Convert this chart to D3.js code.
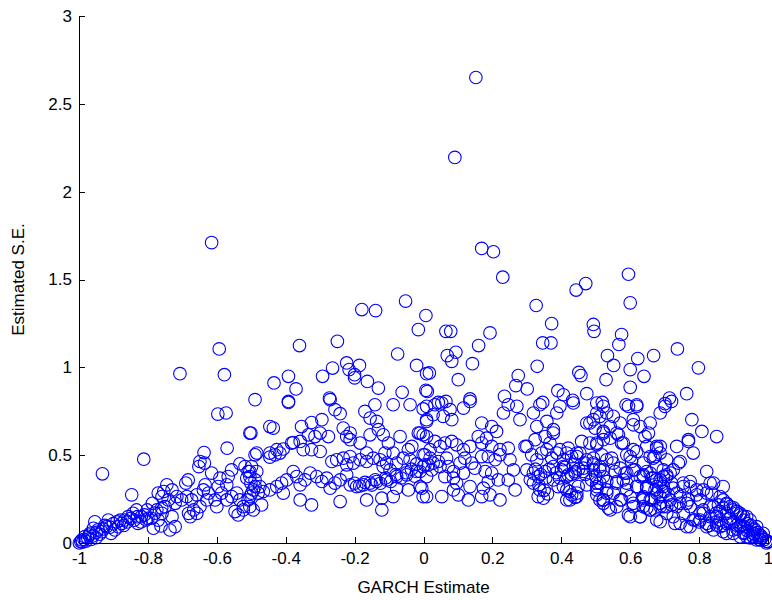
<!DOCTYPE html>
<html>
<head>
<meta charset="utf-8">
<script src="https://cdn.jsdelivr.net/npm/d3@7"></script>
<style>
  html, body { margin: 0; padding: 0; background: #fff; }
  svg { display: block; }
  .axis text { font-family: "Liberation Sans", Arial, Helvetica, sans-serif; font-size: 17px; fill: #000; }
  .axis path, .axis line { stroke: #000; stroke-width: 1; shape-rendering: crispEdges; }
  .title { font-family: "Liberation Sans", Arial, Helvetica, sans-serif; font-size: 17px; fill: #000; }
</style>
</head>
<body>
<svg id="chart" width="772" height="600"></svg>
<script>
// ---- tick definitions ----
const xTicks = [-1, -0.8, -0.6, -0.4, -0.2, 0, 0.2, 0.4, 0.6, 0.8, 1];
const xTickLabels = ["-1", "-0.8", "-0.6", "-0.4", "-0.2", "0", "0.2", "0.4", "0.6", "0.8", "1"];
const yTicks = [0, 0.5, 1, 1.5, 2, 2.5, 3];
const yTickLabels = ["0", "0.5", "1", "1.5", "2", "2.5", "3"];
const xLabel = "GARCH Estimate";
const yLabel = "Estimated S.E.";

// ---- data: [GARCH estimate, estimated S.E.] ----
const outliers = [
  [0.152,2.65],[0.091,2.195],[-0.615,1.71],[0.169,1.677],[0.203,1.658],[0.23,1.513],[0.595,1.53],[0.6,1.367],
  [0.443,1.44],[0.471,1.477],[0.327,1.352],[0.372,1.249],[0.493,1.244],[0.495,1.205],[0.007,1.295],[-0.015,1.215],
  [-0.052,1.377],[-0.179,1.329],[-0.139,1.323],[-0.36,1.124],[-0.25,1.148],[-0.075,1.076],[-0.02,1.011],[0.009,0.964],
  [-0.223,1.025],[-0.186,1.011],[-0.216,0.987],[-0.2,0.958],[-0.2,0.94],[-0.264,0.996],[-0.293,0.949],[-0.392,0.949],
  [-0.434,0.911],[-0.37,0.877],[-0.163,0.92],[-0.131,0.882],[-0.062,0.858],[0.007,0.869],[-0.489,0.816],[-0.392,0.806],
  [-0.273,0.825],[-0.593,1.105],[-0.707,0.964],[-0.578,0.958],
  [0.065,1.205],[0.079,1.205],[0.193,1.196],[0.16,1.124],[0.346,1.139],[0.37,1.139],[0.094,1.086],[0.069,1.067],
  [0.082,1.034],[0.142,1.021],[0.33,1.006],[0.017,0.968],[0.101,0.93],[0.275,0.953],[0.268,0.896],[0.301,0.877],
  [0.451,0.971],[0.457,0.953],[0.011,0.863],[0.39,0.867],[0.406,0.844],[0.474,0.85],[0.135,0.82],[0.235,0.835],
  [0.043,0.8],[0.065,0.806],[0.346,0.8],[0.433,0.812],
  [0.575,1.187],[0.567,1.13],[0.534,1.067],[0.552,1.011],[0.622,1.05],[0.668,1.067],[0.737,1.105],[0.6,0.987],
  [0.64,0.949],[0.798,0.997],[0.53,0.93],[0.6,0.886],[0.764,0.85],[0.714,0.825],[0.519,0.8],[0.619,0.787],
  [0.588,0.787],[0.701,0.793]
];

const leftTail = [
  [-0.597,0.734],[-0.573,0.74],[-0.501,0.626],[-0.57,0.54],[-0.637,0.515],[-0.812,0.477],[-0.932,0.394],[-0.489,0.502],
  [-0.649,0.464],[-0.652,0.435],[-0.636,0.455],[-0.533,0.451],[-0.518,0.435],[-0.557,0.416],[-0.567,0.378],[-0.571,0.331],
  [-0.509,0.407],[-0.513,0.369],[-0.501,0.341],[-0.683,0.359],[-0.69,0.341],[-0.615,0.398],[-0.591,0.369],[-0.596,0.321],
  [-0.634,0.331],[-0.639,0.302],[-0.658,0.274],[-0.745,0.331],[-0.73,0.302],[-0.754,0.293],[-0.77,0.284],[-0.759,0.264],
  [-0.716,0.264],[-0.702,0.245],[-0.721,0.226],[-0.741,0.245],[-0.75,0.207],[-0.73,0.15],[-0.759,0.169],[-0.774,0.188],
  [-0.787,0.226],[-0.802,0.188],[-0.79,0.141],[-0.805,0.131],[-0.819,0.15],[-0.829,0.112],[-0.833,0.188],[-0.843,0.169],
  [-0.847,0.274],[-0.721,0.093],[-0.736,0.074],[-0.784,0.084],[-0.857,0.15],[-0.867,0.131],[-0.876,0.112],[-0.886,0.093],
  [-0.896,0.074],[-0.907,0.055],[-0.915,0.131],[-0.92,0.093],[-0.934,0.064],[-0.954,0.121],[-0.958,0.084],[-0.968,0.055],
  [-0.983,0.036],[-0.992,0.017],[-0.995,0.008],[-0.999,0.0],[-0.687,0.264],[-0.673,0.245],[-0.667,0.188],[-0.682,0.169],
  [-0.649,0.207],[-0.629,0.245],[-0.624,0.284],[-0.605,0.245],[-0.6,0.207],[-0.586,0.284],[-0.571,0.245],[-0.557,0.264],
  [-0.542,0.284],[-0.533,0.245],[-0.523,0.207],[-0.509,0.245],[-0.499,0.284],[-0.489,0.321],[-0.762,0.097],[-0.538,0.16],
  [-0.547,0.179],[-0.523,0.188],[-0.658,0.169],[-0.677,0.15],
  [-0.985,0.02],[-0.975,0.03],[-0.97,0.045],[-0.96,0.04],[-0.95,0.06],[-0.945,0.075],[-0.94,0.05],[-0.93,0.08],
  [-0.925,0.1],[-0.91,0.09],[-0.9,0.11],[-0.89,0.12],[-0.88,0.13],[-0.87,0.1],[-0.86,0.12],[-0.85,0.14],
  [-0.84,0.13],[-0.83,0.15],[-0.82,0.12],[-0.81,0.16],[-0.8,0.14],[-0.78,0.17],[-0.77,0.13],[-0.76,0.2],
  [-0.95,0.03],[-0.99,0.005],[-0.98,0.01],[-0.965,0.02]
];

const leftBand = [
  [-0.392,0.8],[-0.271,0.816],[-0.257,0.759],[-0.242,0.736],[-0.17,0.749],[-0.141,0.787],[-0.088,0.787],[-0.039,0.787],
  [-0.001,0.763],[0.009,0.692],[-0.504,0.626],[-0.446,0.663],[-0.436,0.654],
  [-0.354,0.663],[-0.325,0.686],[-0.295,0.702],[-0.334,0.616],[-0.315,0.606],[-0.3,0.626],[-0.276,0.606],[-0.358,0.578],
  [-0.378,0.572],[-0.349,0.531],[-0.325,0.531],[-0.3,0.521],[-0.383,0.569],[-0.407,0.535],[-0.426,0.531],[-0.446,0.512],
  [-0.484,0.512],[-0.499,0.435],[-0.504,0.407],[-0.484,0.407],[-0.446,0.489],[-0.431,0.502],[-0.417,0.512],
  [-0.233,0.654],[-0.213,0.626],[-0.223,0.606],[-0.213,0.588],[-0.184,0.569],[-0.165,0.512],[-0.155,0.616],[-0.131,0.645],
  [-0.136,0.692],[-0.155,0.711],
  [-0.117,0.616],[-0.102,0.569],[-0.112,0.512],[-0.088,0.512],[-0.068,0.606],[-0.044,0.531],[-0.034,0.55],[-0.015,0.626],
  [-0.001,0.616],[0.004,0.502],[0.019,0.531],[0.014,0.445],
  [-0.266,0.464],[-0.252,0.474],[-0.233,0.483],[-0.213,0.492],[-0.223,0.445],[-0.204,0.455],[-0.184,0.474],[-0.165,0.464],
  [-0.146,0.483],[-0.126,0.474],[-0.117,0.435],[-0.107,0.455],[-0.097,0.416],[-0.078,0.455],[-0.059,0.483],[-0.039,0.474],
  [-0.504,0.378],[-0.489,0.359],[-0.475,0.321],[-0.494,0.302],[-0.504,0.264],[-0.48,0.284],[-0.465,0.293],[-0.446,0.302],
  [-0.426,0.321],[-0.412,0.341],[-0.407,0.284],[-0.397,0.359],[-0.378,0.407],[-0.368,0.378],[-0.358,0.331],[-0.344,0.359],
  [-0.329,0.398],[-0.31,0.378],[-0.295,0.35],[-0.281,0.369],[-0.271,0.312],[-0.257,0.341],[-0.242,0.359],[-0.223,0.388],
  [-0.358,0.245],[-0.325,0.217],[-0.242,0.236],[-0.165,0.245],[-0.121,0.188],[-0.121,0.255],[-0.088,0.264],[-0.078,0.312],
  [-0.044,0.302],[-0.005,0.312],[-0.001,0.264],[-0.213,0.331],[-0.194,0.321],[-0.175,0.331],[-0.155,0.341],[-0.136,0.35],
  [-0.107,0.359],[-0.078,0.378],[-0.049,0.388],[-0.02,0.407],[-0.001,0.435],
  [-0.504,0.207],[-0.47,0.217],[-0.494,0.188],
  [-0.2,0.34],[-0.185,0.325],[-0.17,0.345],[-0.15,0.33],[-0.14,0.36],[-0.125,0.34],[-0.11,0.37],[-0.095,0.35],
  [-0.08,0.39],[-0.065,0.37],[-0.05,0.4],[-0.035,0.42],[-0.02,0.45],[-0.025,0.38]
];

const centerBand = [
  [0.009,0.778],[0.033,0.787],[0.053,0.797],[0.077,0.759],[0.028,0.73],[0.057,0.721],[0.082,0.702],[0.009,0.702],
  [0.116,0.768],[0.135,0.806],[0.169,0.683],[0.198,0.663],[0.212,0.635],[0.232,0.74],[0.246,0.787],[0.271,0.778],
  [0.28,0.702],[0.319,0.74],[0.338,0.787],[0.387,0.74],[0.396,0.778],[0.435,0.797],[0.329,0.663],[0.358,0.692],
  [0.377,0.645],[0.483,0.683],[0.503,0.74],
  [-0.01,0.626],[0.009,0.606],[0.033,0.578],[0.048,0.55],[0.062,0.569],[0.082,0.578],[0.096,0.559],[0.116,0.531],
  [0.135,0.55],[0.159,0.606],[0.183,0.597],[0.169,0.569],[0.198,0.55],[0.222,0.531],[0.246,0.54],[0.3,0.55],
  [0.324,0.588],[0.353,0.606],[0.377,0.626],[0.367,0.569],[0.396,0.531],[0.42,0.54],[0.459,0.578],[0.445,0.512],
  [0.483,0.569],
  [-0.001,0.502],[0.019,0.483],[0.004,0.445],[0.028,0.455],[0.024,0.416],[0.043,0.464],[0.048,0.435],[0.067,0.483],
  [0.072,0.435],[0.087,0.407],[0.106,0.455],[0.12,0.483],[0.14,0.455],[0.149,0.426],[0.169,0.492],[0.188,0.492],
  [0.208,0.474],[0.222,0.502],[0.251,0.474],[0.261,0.416],[0.179,0.407],[0.198,0.398],[0.217,0.359],[0.188,0.35],
  [0.116,0.398],[0.087,0.369],[0.062,0.378],[0.009,0.378],[-0.01,0.407],
  [-0.01,0.321],[0.009,0.264],[0.053,0.264],[0.087,0.302],[0.101,0.274],[0.13,0.245],[0.169,0.264],[0.193,0.274],
  [0.222,0.245],[0.266,0.302],[0.246,0.359],[0.096,0.341],[0.135,0.321],[0.174,0.312],
  [0.295,0.55],[0.314,0.502],[0.329,0.474],[0.343,0.512],[0.358,0.531],[0.372,0.483],[0.387,0.512],[0.406,0.474],
  [0.43,0.492],[0.454,0.512],[0.474,0.474],[0.493,0.445],[0.512,0.416],[0.3,0.416],[0.319,0.398],[0.333,0.378],
  [0.353,0.407],[0.377,0.435],[0.401,0.416],[0.42,0.388],[0.44,0.407],[0.464,0.426],[0.488,0.359],[0.319,0.341],
  [0.338,0.302],[0.348,0.255],[0.333,0.264],[0.377,0.359],[0.391,0.321],[0.416,0.302],[0.43,0.274],[0.425,0.245],
  [0.445,0.284],[0.512,0.341],[0.503,0.302],[0.512,0.245],
  [0.31,0.36],[0.325,0.42],[0.34,0.39],[0.355,0.37],[0.365,0.42],[0.385,0.4],[0.395,0.37],[0.41,0.43],
  [0.43,0.39],[0.45,0.42],[0.47,0.39],[0.5,0.38],[0.335,0.33],[0.35,0.3],[0.36,0.28],[0.44,0.26]
];

const rightBand = [
  [0.503,0.797],[0.522,0.778],[0.532,0.74],[0.512,0.721],[0.493,0.702],[0.551,0.721],[0.571,0.683],[0.542,0.663],
  [0.522,0.626],[0.503,0.569],[0.542,0.597],[0.561,0.626],[0.58,0.569],[0.595,0.778],[0.619,0.778],[0.609,0.702],
  [0.629,0.663],[0.658,0.683],[0.653,0.626],[0.643,0.606],[0.687,0.74],[0.701,0.778],[0.72,0.806],
  [0.779,0.702],[0.808,0.635],[0.851,0.606],[0.769,0.588],[0.735,0.55],[0.783,0.512],
  [0.609,0.531],[0.6,0.492],[0.677,0.55],[0.687,0.512],[0.667,0.483],[0.706,0.474],[0.745,0.464],[0.725,0.416],
  [0.822,0.407],[0.842,0.341],[0.87,0.321],
  [0.493,0.455],[0.512,0.435],[0.532,0.474],[0.551,0.455],[0.571,0.426],[0.522,0.378],[0.503,0.321],[0.532,0.302],
  [0.561,0.341],[0.58,0.359],[0.59,0.398],[0.609,0.416],[0.629,0.378],[0.648,0.407],[0.667,0.369],[0.687,0.341],
  [0.706,0.378],[0.619,0.321],[0.6,0.264],[0.571,0.245],[0.537,0.198],[0.522,0.245],[0.638,0.264],[0.658,0.245],
  [0.677,0.284],[0.701,0.293],[0.725,0.312],[0.754,0.341],[0.774,0.321],[0.745,0.264],[0.716,0.245],[0.687,0.207],
  [0.658,0.188],[0.609,0.207],[0.6,0.15],[0.551,0.284],[0.59,0.302],[0.648,0.321],[0.561,0.207],[0.638,0.207],
  [0.629,0.15],
  [0.474,0.683],[0.498,0.654],[0.522,0.635],[0.609,0.673],[0.566,0.616],[0.522,0.588],[0.503,0.559],[0.575,0.569],
  [0.619,0.521],[0.677,0.54],[0.416,0.512],[0.445,0.492],[0.406,0.435],[0.435,0.445],[0.469,0.455],[0.493,0.483],
  [0.517,0.502],[0.546,0.483],[0.59,0.502],[0.604,0.464],[0.638,0.455],[0.658,0.492],[0.677,0.435],[0.696,0.416],
  [0.416,0.378],[0.44,0.398],[0.464,0.407],[0.493,0.416],[0.522,0.416],[0.556,0.407],[0.585,0.398],[0.614,0.416],
  [0.638,0.388],[0.662,0.369],[0.687,0.359],[0.706,0.388],[0.406,0.321],[0.425,0.293],[0.449,0.321],[0.474,0.331],
  [0.503,0.341],[0.532,0.35],[0.561,0.35],[0.59,0.341],[0.619,0.321],[0.648,0.312],[0.677,0.321],[0.696,0.293],
  [0.416,0.245],[0.445,0.264],[0.503,0.274],[0.532,0.284],[0.522,0.226],[0.542,0.188],[0.575,0.245],[0.595,0.16],
  [0.609,0.226],[0.638,0.245],[0.658,0.188],[0.687,0.226],[0.706,0.207],[0.677,0.131],[0.629,0.15],[0.522,0.245],
  [0.648,0.55],[0.687,0.55],[0.769,0.578],[0.672,0.492],[0.74,0.455],[0.832,0.341]
];

const rightTail = [
  [0.687,0.121],[0.725,0.15],[0.754,0.169],[0.774,0.207],[0.803,0.245],[0.822,0.284],[0.793,0.302],[0.842,0.207],
  [0.803,0.169],[0.783,0.131],[0.745,0.112],[0.87,0.245],[0.89,0.207],[0.851,0.15],[0.822,0.112],[0.909,0.169],
  [0.929,0.15],[0.948,0.131],[0.89,0.112],[0.861,0.093],[0.919,0.093],[0.967,0.093],[0.986,0.055],[0.957,0.055],
  [0.938,0.036],[0.977,0.017],[0.996,0.0],[1.0,0.008],
  [0.88,0.169],[0.832,0.15],[0.803,0.131],[0.774,0.093],[0.842,0.074],[0.88,0.055],[0.919,0.036],[0.948,0.029],
  [0.967,0.017],[0.899,0.074],[0.861,0.131],[0.812,0.188],[0.764,0.226],[0.735,0.207],[0.706,0.169],
  [0.9,0.2],[0.91,0.18],[0.92,0.16],[0.93,0.13],[0.94,0.11],[0.95,0.1],[0.96,0.08],[0.97,0.06],
  [0.98,0.04],[0.99,0.02],[0.88,0.22],[0.87,0.2],[0.86,0.18],[0.85,0.17],[0.89,0.14],[0.9,0.12],
  [0.92,0.1],[0.94,0.07],[0.96,0.05],[0.98,0.03],[0.995,0.01],[0.975,0.02],[0.955,0.04],[0.93,0.06],
  [0.91,0.08],[0.87,0.1],[0.85,0.12],[0.83,0.1],[0.8,0.12],
  [0.638,0.378],[0.658,0.398],[0.677,0.359],[0.696,0.378],[0.716,0.398],[0.648,0.321],[0.672,0.302],[0.696,0.321],
  [0.72,0.341],[0.638,0.255],[0.662,0.245],[0.687,0.264],[0.711,0.274],[0.735,0.284],[0.754,0.321],[0.774,0.35],
  [0.648,0.198],[0.672,0.188],[0.696,0.207],[0.72,0.217],[0.745,0.226],[0.769,0.245],[0.793,0.274],[0.812,0.302],
  [0.836,0.284],[0.861,0.264],[0.73,0.112],[0.764,0.093],[0.788,0.131],[0.812,0.169],[0.832,0.207],[0.856,0.217],
  [0.88,0.226],[0.899,0.188],[0.919,0.169],[0.938,0.15],[0.822,0.093],[0.851,0.102],[0.88,0.112],[0.909,0.102],
  [0.929,0.093],[0.957,0.074],[0.977,0.045],[0.87,0.064],[0.899,0.055],[0.929,0.055],[0.957,0.036],[0.981,0.027],
  [1.0,0.007]
];

const allPoints = [].concat(outliers, leftTail, leftBand, centerBand, rightBand, rightTail);

// ---- layout ----
const plotLeft = 79, plotRight = 768, plotTop = 16, plotBottom = 543;

const svg = d3.select("#chart");
const x = d3.scaleLinear().domain([-1, 1]).range([plotLeft, plotRight]);
const y = d3.scaleLinear().domain([0, 3]).range([plotBottom, plotTop]);

// points
svg.append("g")
  .selectAll("circle")
  .data(allPoints)
  .join("circle")
  .attr("cx", d => x(d[0]))
  .attr("cy", d => y(d[1]))
  .attr("r", 6.3)
  .attr("fill", "none")
  .attr("stroke", "#0000ff")
  .attr("stroke-width", 1.1);

// axes
const xAxis = d3.axisBottom(x)
  .tickValues(xTicks)
  .tickFormat((d, i) => xTickLabels[i])
  .tickSizeInner(-6).tickSizeOuter(0).tickPadding(9);
svg.append("g").attr("class", "axis")
  .attr("transform", `translate(0,${plotBottom})`)
  .call(xAxis);

const yAxis = d3.axisLeft(y)
  .tickValues(yTicks)
  .tickFormat((d, i) => yTickLabels[i])
  .tickSizeInner(-6).tickSizeOuter(0).tickPadding(7);
svg.append("g").attr("class", "axis")
  .attr("transform", `translate(${plotLeft},0)`)
  .call(yAxis);

// titles
svg.append("text").attr("class", "title")
  .attr("x", (plotLeft + plotRight) / 2).attr("y", 593)
  .attr("text-anchor", "middle")
  .text(xLabel);

svg.append("text").attr("class", "title")
  .attr("transform", `translate(24,${(plotTop + plotBottom) / 2}) rotate(-90)`)
  .attr("text-anchor", "middle")
  .text(yLabel);
</script>
</body>
</html>
